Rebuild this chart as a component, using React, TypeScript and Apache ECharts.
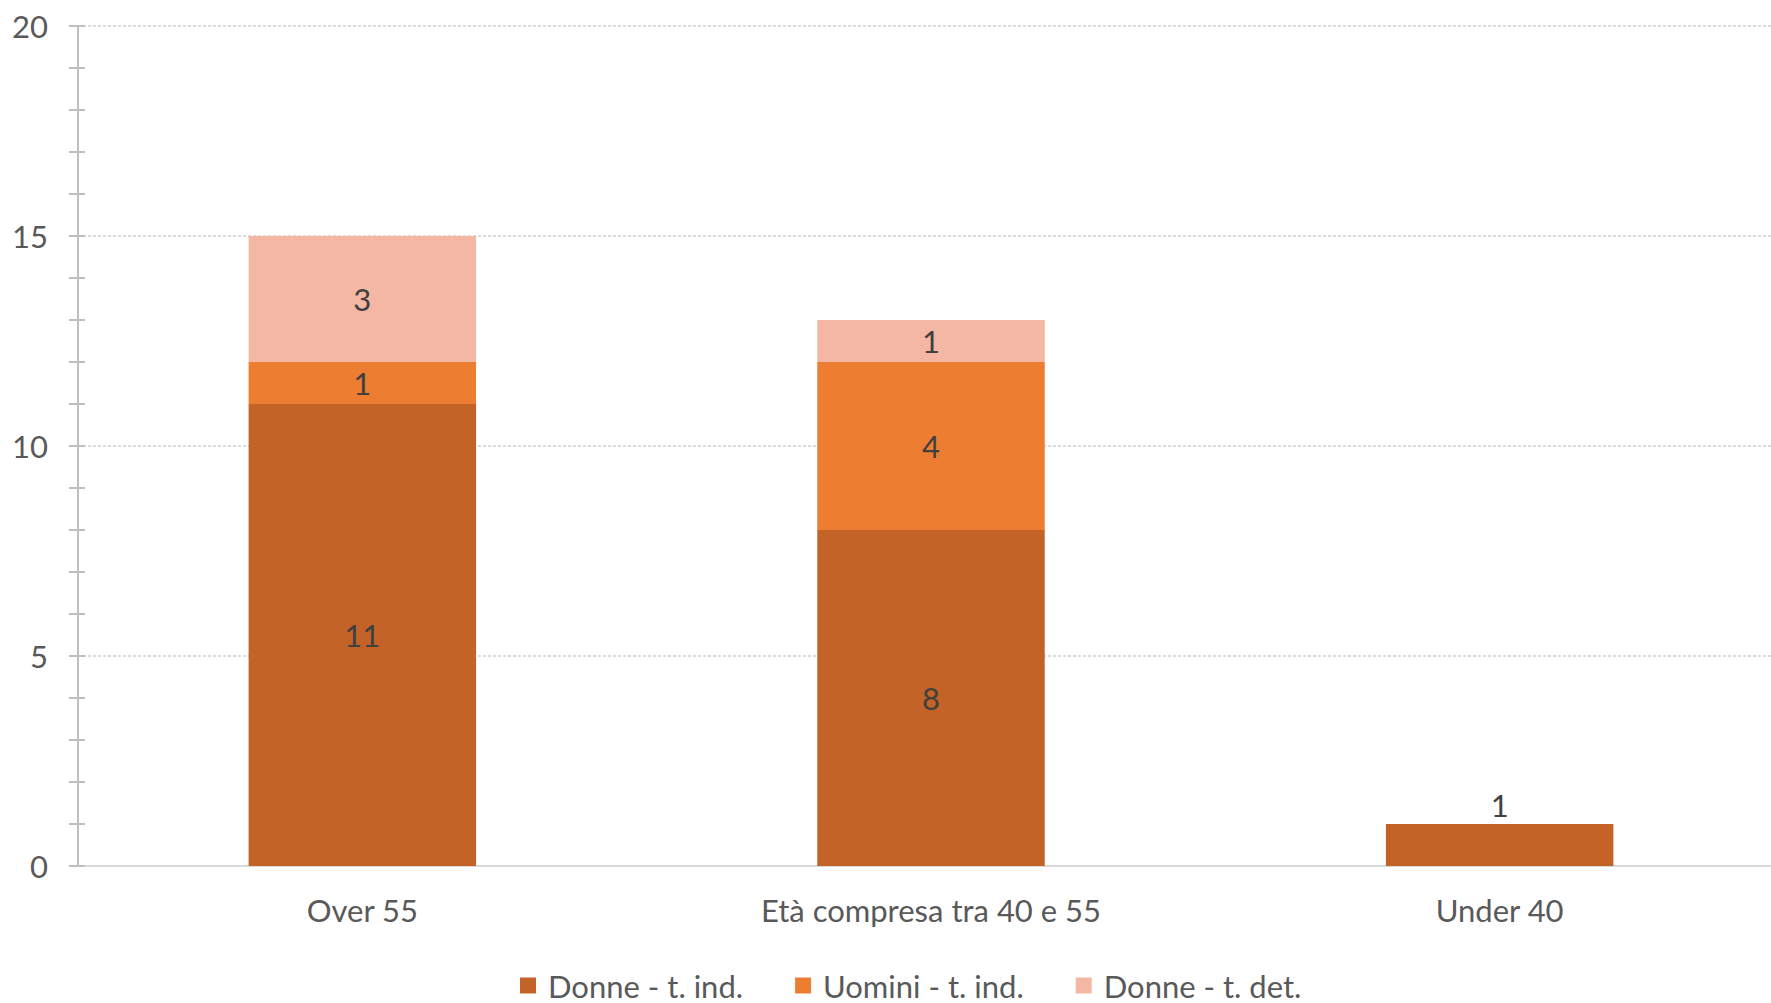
import React, { useEffect, useRef } from "react";
import * as echarts from "echarts";

const categories = ["Over 55", "Età compresa tra 40 e 55", "Under 40"];
const seriesNames = ["Donne - t. ind.", "Uomini - t. ind.", "Donne - t. det."];
const donneInd = [11, 8, 1];
const uominiInd = [1, 4, 0];
const donneDet = [3, 1, 0];
const yTicks = [0, 5, 10, 15, 20];

const colors = ["#C46327", "#ED7D31", "#F4B7A4"];
const FONT = "Lato, 'Open Sans', sans-serif";
const FS = 31;

export default function App() {
  const ref = useRef<HTMLDivElement>(null);
  useEffect(() => {
    document.body.style.margin = "0";
    document.body.style.overflow = "hidden";
    const chart = echarts.init(ref.current!, null, { renderer: "svg" });
    const values = [donneInd, uominiInd, donneDet];
    const mkData = (arr: number[], si: number) =>
      arr.map((v, i) => {
        if (!v) return { value: null as any };
        const onlyThis = values.every((a, k) => k === si || !a[i]);
        return onlyThis
          ? { value: v, label: { position: "top", distance: 4 } }
          : { value: v };
      });
    const axisMin = yTicks[0];
    const axisMax = yTicks[yTicks.length - 1];
    const axisInt = yTicks[1] - yTicks[0];
    chart.setOption({
      animation: false,
      color: colors,
      grid: { left: 78, top: 26, width: 1706, bottom: 137, containLabel: false },
      legend: {
        bottom: 2,
        left: 520,
        padding: 0,
        icon: "rect",
        itemWidth: 16,
        itemHeight: 16,
        itemGap: 52,
        textStyle: {
          fontFamily: FONT,
          fontSize: FS,
          lineHeight: 26,
          color: "#595959",
          padding: [0, 0, 0, 7],
        },
        data: seriesNames,
      },
      xAxis: {
        type: "category",
        data: categories,
        axisLine: { lineStyle: { color: "#D9D9D9", width: 2 } },
        axisTick: { show: false },
        axisLabel: { fontFamily: FONT, fontSize: FS, color: "#595959", margin: 28 },
      },
      yAxis: [
        {
          type: "value",
          min: axisMin,
          max: axisMax,
          interval: axisInt,
          axisLine: { show: true, lineStyle: { color: "#BFBFBF", width: 2 } },
          axisTick: { show: true, length: 9, lineStyle: { color: "#BFBFBF", width: 2 } },
          minorTick: { show: true, splitNumber: 5, length: 9, lineStyle: { color: "#BFBFBF", width: 2 } },
          splitLine: { show: true, lineStyle: { color: "#D0D0D0", width: 1.5, type: [3, 2] } },
          axisLabel: { fontFamily: FONT, fontSize: FS, color: "#595959", margin: 30 },
        },
        {
          type: "value",
          position: "left",
          min: axisMin,
          max: axisMax,
          interval: axisInt,
          axisLine: { show: false },
          axisTick: { show: true, inside: true, length: 7, lineStyle: { color: "#BFBFBF", width: 2 } },
          minorTick: { show: true, splitNumber: 5, length: 7, lineStyle: { color: "#BFBFBF", width: 2 } },
          splitLine: { show: false },
          axisLabel: { show: false },
        },
      ],
      series: values.map((arr, si) => ({
        name: seriesNames[si],
        type: "bar",
        stack: "total",
        barWidth: "40%",
        data: mkData(arr, si),
        label: {
          show: true,
          position: "inside",
          fontFamily: FONT,
          fontSize: FS,
          color: "#404040",
        },
      })),
    });
    return () => chart.dispose();
  }, []);
  return <div ref={ref} style={{ width: 1790, height: 1003 }} />;
}
